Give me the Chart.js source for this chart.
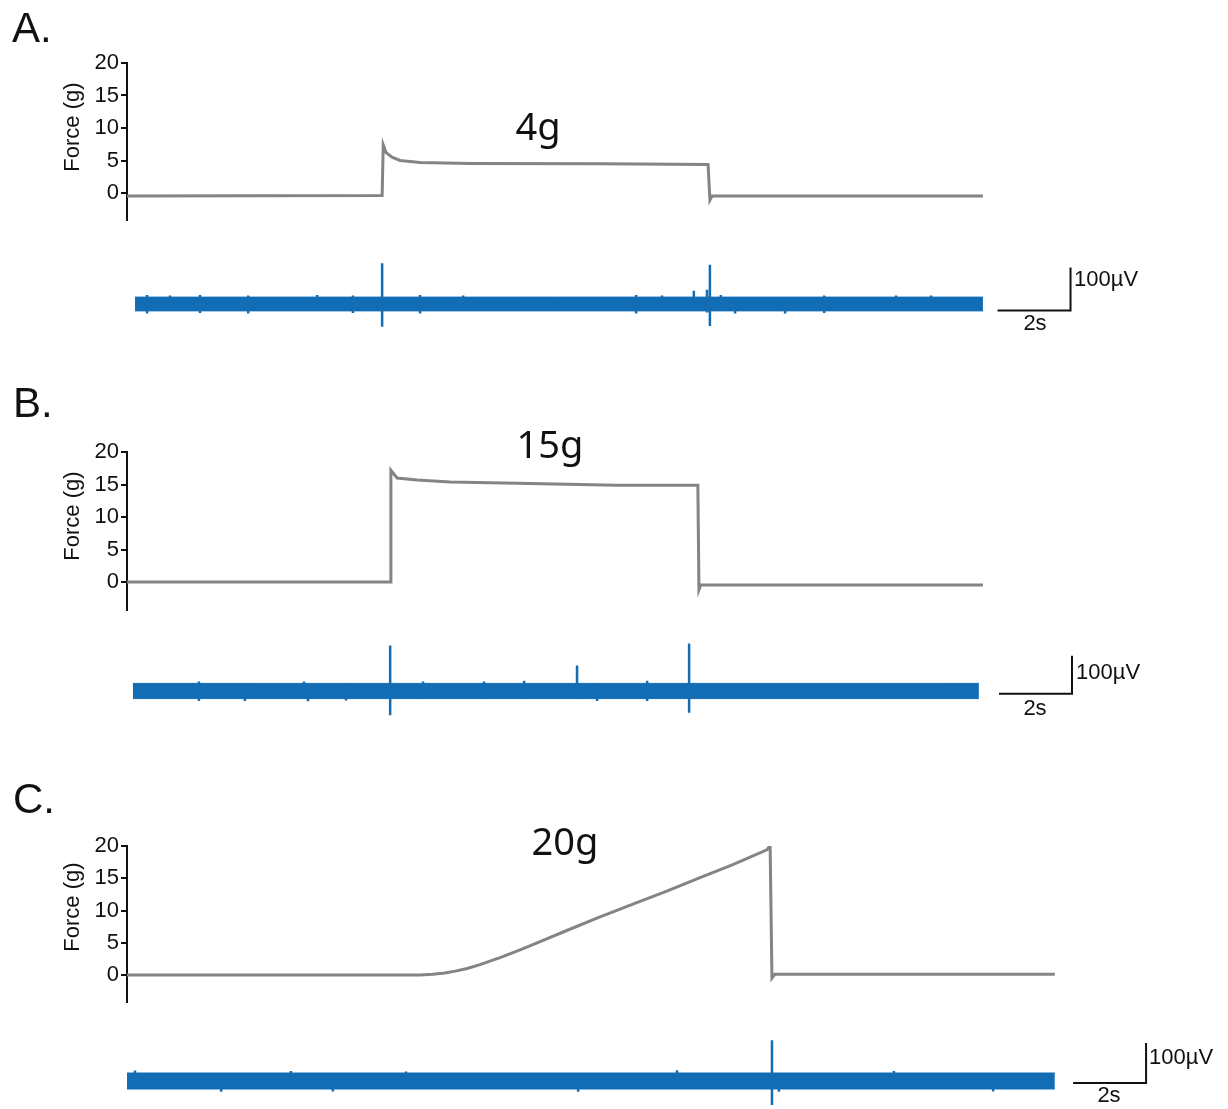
<!DOCTYPE html>
<html>
<head>
<meta charset="utf-8">
<script src="https://cdn.jsdelivr.net/npm/chart.js@4.4.0/dist/chart.umd.min.js"></script>
<style>
  body { margin: 0; background: #fff; }
  #page { position: relative; width: 1228px; height: 1109px; overflow: hidden; font-family: "Liberation Sans", Arial, sans-serif; color: #111; }
  canvas { position: absolute; left: 0; }
  .lbl { position: absolute; white-space: nowrap; line-height: 1; }
</style>
</head>
<body>
<div id="page">
  <canvas id="fA"></canvas><canvas id="eA"></canvas>
  <canvas id="fB"></canvas><canvas id="eB"></canvas>
  <canvas id="fC"></canvas><canvas id="eC"></canvas>
</div>
<script>
// ---- data (time in s from start of trace, force in g, EMG in µV) ----
const forceTicks = [0, 5, 10, 15, 20];

const forceA_t = [0, 6.99, 7.02, 7.10, 7.26, 7.48, 8.03, 9.40, 12.96, 15.92, 15.97, 16.03, 23.45];
const forceA_g = [-0.45, -0.4, 7.4, 6.2, 5.5, 5.0, 4.7, 4.55, 4.5, 4.4, -1.1, -0.45, -0.45];

const forceB_t = [0, 7.21, 7.23, 7.40, 7.95, 8.85, 10.68, 13.42, 15.64, 15.67, 15.72, 23.45];
const forceB_g = [0, 0, 17.2, 16.0, 15.7, 15.4, 15.2, 14.9, 14.9, -1.2, -0.45, -0.45];

const forceC_t = [0, 8.03, 8.38, 8.71, 8.99, 9.32, 9.67, 10.22, 10.77, 11.12, 12.05, 12.96, 13.86, 14.79, 15.70, 16.60, 17.53, 17.62, 17.67, 17.75, 25.42];
const forceC_g = [0, 0, 0.1, 0.3, 0.6, 1.0, 1.6, 2.7, 3.9, 4.7, 6.9, 9.0, 11.0, 13.0, 15.1, 17.1, 19.4, 20.1, -0.5, 0.1, 0.1];

// EMG: trace span, noise half-width, spikes (time, peak, trough)
const emgA_span = [0.22, 23.45];
const emgA_noise = 16;
const spikeA_t  = [0.55, 1.18, 2.0, 3.32, 4.14, 5.21, 6.19, 6.99, 8.03, 9.21, 13.95, 14.66, 15.53, 15.89, 15.97, 16.27, 16.66, 18.03, 19.10, 21.07, 22.03];
const spikeA_hi = [21, 20, 21, 20, 16, 21, 20, 95, 21, 20, 21, 20, 31, 33, 91, 21, 16, 16, 20, 20, 20];
const spikeA_lo = [-22, -16, -21, -22, -16, -16, -21, -53, -22, -16, -22, -16, -16, -20, -51, -16, -22, -22, -21, -16, -16];

const emgB_span = [0.16, 23.34];
const emgB_noise = 20;
const spikeB_t  = [1.97, 3.23, 4.85, 4.96, 6.0, 7.21, 8.11, 9.78, 10.88, 12.33, 12.88, 14.25, 15.40];
const spikeB_hi = [25, 20, 25, 20, 20, 120, 25, 25, 27, 67, 20, 27, 125];
const spikeB_lo = [-26, -26, -20, -27, -25, -64, -20, -20, -20, -20, -26, -26, -57];

const emgC_span = [0, 25.42];
const emgC_noise = 20;
const spikeC_t  = [0.22, 2.58, 4.49, 5.64, 7.64, 12.36, 15.07, 17.67, 17.86, 21.01, 23.73];
const spikeC_hi = [26, 20, 25, 20, 24, 20, 27, 102, 20, 25, 20];
const spikeC_lo = [-20, -27, -20, -26, -20, -27, -20, -60, -27, -20, -26];

// scale bars: start time and level of the 2 s / 100 µV corner
const barSec = 2, barMicroV = 100;
const barA = [23.85, -15];
const barB = [23.89, -7];
const barC = [25.92, -5];

// ---- layout (pixels) ----
const pageW = 1228;
const originX = 127;     // x of t = 0
const pxPerSec = 36.5;
const layout = {
  A: { y20: 63,  y0: 193, axisBottom: 220,  emgMid: 304,  pxPerUV: 0.43 },
  B: { y20: 452, y0: 582, axisBottom: 610,  emgMid: 690.5, pxPerUV: 0.38 },
  C: { y20: 846, y0: 975, axisBottom: 1002, emgMid: 1081, pxPerUV: 0.40 }
};
const grey = '#848484', blue = '#136db5', ink = '#111';

function sizeCanvas(cv, top, h) {
  cv.width = pageW; cv.height = h;
  cv.style.width = pageW + 'px'; cv.style.height = h + 'px';
  cv.style.top = top + 'px';
}

function forceChart(id, lay, ts, gs) {
  const cv = document.getElementById(id);
  const pad = 30;
  sizeCanvas(cv, lay.y20 - pad, lay.axisBottom - lay.y20 + 2 * pad);
  const unit = (lay.y0 - lay.y20) / 20;
  return new Chart(cv, {
    type: 'line',
    data: { datasets: [{
      data: ts.map((t, i) => ({ x: t, y: gs[i] })),
      borderColor: grey, borderWidth: 3, pointRadius: 0, tension: 0
    }] },
    options: {
      responsive: false, animation: false,
      layout: { padding: { left: 0, right: 0, top: pad, bottom: pad } },
      plugins: { legend: { display: false }, tooltip: { enabled: false } },
      scales: {
        x: { type: 'linear', display: false, min: 0, max: (pageW - originX) / pxPerSec },
        y: {
          min: -(lay.axisBottom - lay.y0) / unit, max: 20,
          afterFit: s => { s.width = originX; },
          afterBuildTicks: s => { s.ticks = forceTicks.map(v => ({ value: v })); },
          ticks: { font: { family: "'Liberation Sans', Arial, sans-serif", size: 22 }, color: ink, padding: 2 },
          grid: { drawOnChartArea: false, drawTicks: true, tickLength: 6, color: ink, lineWidth: 2 },
          border: { display: true, color: ink, width: 2 }
        }
      }
    }
  });
}

function segs(ts, his, los) {
  const pts = [];
  ts.forEach((t, i) => { pts.push({ x: t, y: his[i] }, { x: t, y: los[i] }, { x: t, y: null }); });
  return pts;
}

function emgChart(id, lay, span, noise, spT, spHi, spLo, bar) {
  const cv = document.getElementById(id);
  const above = 70, below = 60;
  sizeCanvas(cv, lay.emgMid - above, above + below);
  return new Chart(cv, {
    type: 'line',
    data: { datasets: [
      { data: [{ x: span[0], y: noise }, { x: span[1], y: noise }], borderColor: blue, borderWidth: 1,
        backgroundColor: blue, fill: '+1', pointRadius: 0 },
      { data: [{ x: span[0], y: -noise }, { x: span[1], y: -noise }], borderColor: blue, borderWidth: 1,
        pointRadius: 0, fill: false },
      { data: segs(spT, spHi, spLo), borderColor: blue, borderWidth: 2.5, pointRadius: 0, fill: false },
      { data: [{ x: bar[0], y: bar[1] }, { x: bar[0] + barSec, y: bar[1] }, { x: bar[0] + barSec, y: bar[1] + barMicroV }],
        borderColor: ink, borderWidth: 2, pointRadius: 0, fill: false }
    ] },
    options: {
      responsive: false, animation: false,
      layout: { padding: 0 },
      plugins: { legend: { display: false }, tooltip: { enabled: false } },
      scales: {
        x: { type: 'linear', display: false, min: -originX / pxPerSec, max: (pageW - originX) / pxPerSec },
        y: { display: false, min: -below / lay.pxPerUV, max: above / lay.pxPerUV }
      }
    }
  });
}

forceChart('fA', layout.A, forceA_t, forceA_g);
forceChart('fB', layout.B, forceB_t, forceB_g);
forceChart('fC', layout.C, forceC_t, forceC_g);
emgChart('eA', layout.A, emgA_span, emgA_noise, spikeA_t, spikeA_hi, spikeA_lo, barA);
emgChart('eB', layout.B, emgB_span, emgB_noise, spikeB_t, spikeB_hi, spikeB_lo, barB);
emgChart('eC', layout.C, emgC_span, emgC_noise, spikeC_t, spikeC_hi, spikeC_lo, barC);

// ---- text ----
const page = document.getElementById('page');
function addText(txt, x, baseline, size, opts = {}) {
  const d = document.createElement('div');
  d.className = 'lbl';
  d.textContent = txt;
  const asc = opts.noto ? 0.888 : 0.8465;
  d.style.fontSize = size + 'px';
  if (opts.noto) d.style.fontFamily = "'Noto Sans', sans-serif";
  d.style.left = x + 'px';
  d.style.top = (baseline - asc * size) + 'px';
  if (opts.center) d.style.transform = 'translateX(-50%)';
  page.appendChild(d);
}
function addAxisTitle(cy) {
  const d = document.createElement('div');
  d.className = 'lbl';
  d.textContent = 'Force (g)';
  d.style.fontSize = '22px';
  d.style.left = '72px';
  d.style.top = cy + 'px';
  d.style.transform = 'translate(-50%, -50%) rotate(-90deg)';
  page.appendChild(d);
}

addText('A.', 12, 43, 42);
addText('B.', 13, 418, 42);
addText('C.', 13, 814, 42);

addText('4g', 538, 140, 38, { noto: true, center: true });
addText('15g', 550, 458, 38, { noto: true, center: true });
addText('20g', 565, 855, 38, { noto: true, center: true });

addAxisTitle(127);
addAxisTitle(516);
addAxisTitle(907);

addText('100µV', 1074, 287, 22);
addText('2s', 1035, 331, 22, { center: true });
addText('100µV', 1076, 680, 22);
addText('2s', 1035, 716, 22, { center: true });
addText('100µV', 1149, 1065, 22);
addText('2s', 1109, 1103, 22, { center: true });
</script>
</body>
</html>
